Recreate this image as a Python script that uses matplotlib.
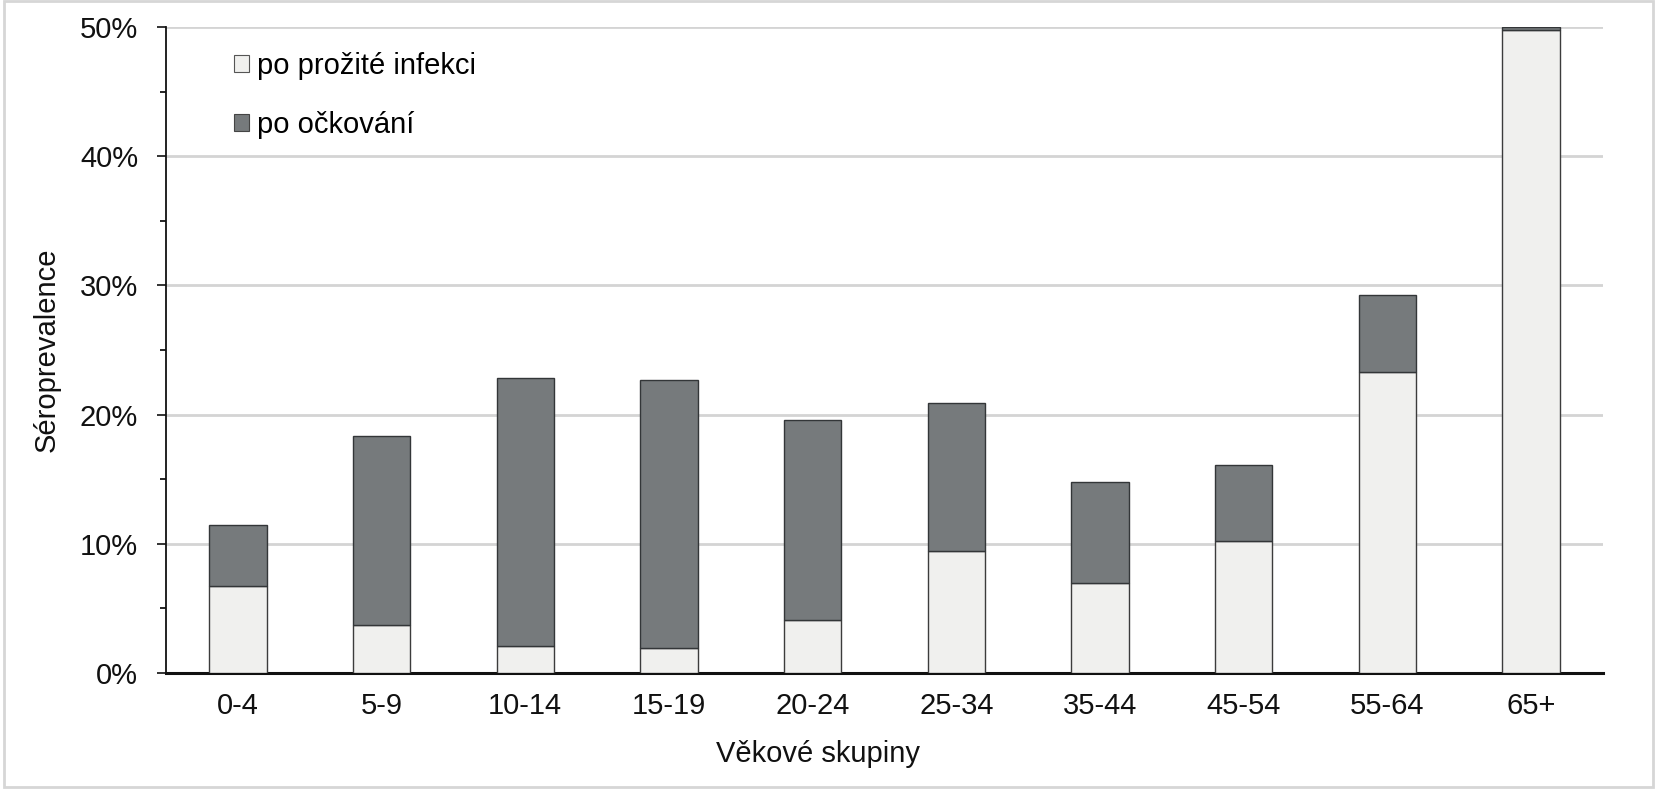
import matplotlib
matplotlib.use("Agg")
import matplotlib.pyplot as plt
from matplotlib.patches import Patch, Rectangle
from matplotlib.ticker import MultipleLocator, PercentFormatter
import numpy as np

categories = ["0-4", "5-9", "10-14", "15-19", "20-24", "25-34", "35-44", "45-54", "55-64", "65+"]
infection = [6.7, 3.7, 2.06, 1.9, 4.1, 9.47, 7.0, 10.2, 23.27, 49.75]
total = [11.45, 18.37, 22.8, 22.68, 19.58, 20.9, 14.78, 16.07, 29.28, 50.0]
vaccination = [t - i for t, i in zip(total, infection)]

series_labels = ["po prožité infekci", "po očkování"]
xlabel = "Věkové skupiny"
ylabel = "Séroprevalence"

light = "#f0f0ee"
dark = "#767a7c"

plt.rcParams['font.family'] = ['Liberation Sans', 'DejaVu Sans']

fig = plt.figure(figsize=(16.7, 8.0), dpi=100)
ax = fig.add_axes([166/1670, 1-673/800, (1603-166)/1670, (673-27)/800])

x = np.arange(len(categories))
ax.bar(x, infection, width=0.4, color=light, edgecolor="#3c3c3c", linewidth=1.0, zorder=3)
ax.bar(x, vaccination, width=0.4, bottom=infection, color=dark, edgecolor="#333638", linewidth=1.0, zorder=3)

ax.set_xlim(-0.5, len(categories) - 0.5)
ax.set_ylim(0, 50)
ax.yaxis.set_major_locator(MultipleLocator(10))
ax.yaxis.set_minor_locator(MultipleLocator(5))
ax.yaxis.set_major_formatter(PercentFormatter(decimals=0))
ax.grid(axis='y', which='major', color='#d4d4d4', linewidth=2.0, zorder=0)
ax.set_axisbelow(True)

ax.set_xticks(x)
ax.set_xticklabels(categories)
ax.tick_params(axis='x', length=0, pad=14, labelsize=21, colors='#111111')
ax.tick_params(axis='y', which='major', length=6.5, width=1.2, pad=13.5, labelsize=21, colors='#111111')
ax.tick_params(axis='y', which='minor', length=4.5, width=1.2)

for s in ['top', 'right']:
    ax.spines[s].set_visible(False)
ax.spines['left'].set_linewidth(1.3)
ax.spines['bottom'].set_linewidth(2.2)
ax.spines['left'].set_color('#111111')
ax.spines['bottom'].set_color('#111111')

ax.set_xlabel(xlabel, fontsize=21, color='#111111')
ax.set_ylabel(ylabel, fontsize=21, color='#111111')
ax.xaxis.set_label_coords((818-166)/1437, (673-740)/646)
ax.yaxis.set_label_coords((61-166)/1437, 0.5)

handles = [Patch(facecolor=light, edgecolor='#555555', linewidth=0.8),
           Patch(facecolor=dark, edgecolor='#444444', linewidth=0.8)]
ax.legend(handles, series_labels, loc='upper left', bbox_to_anchor=((234-166)/1437, 1-(52-27)/646),
          frameon=False, fontsize=21, handlelength=0.52, handleheight=0.52, handletextpad=0.28,
          labelspacing=1.05, borderpad=0, borderaxespad=0)

fig.patches.append(Rectangle((4/1670, 1-787/800), (1653-4)/1670, (787-1)/800,
                             transform=fig.transFigure, fill=False, edgecolor='#d6d6d6', linewidth=2))

fig.savefig("out.png", dpi=100, facecolor='white')
